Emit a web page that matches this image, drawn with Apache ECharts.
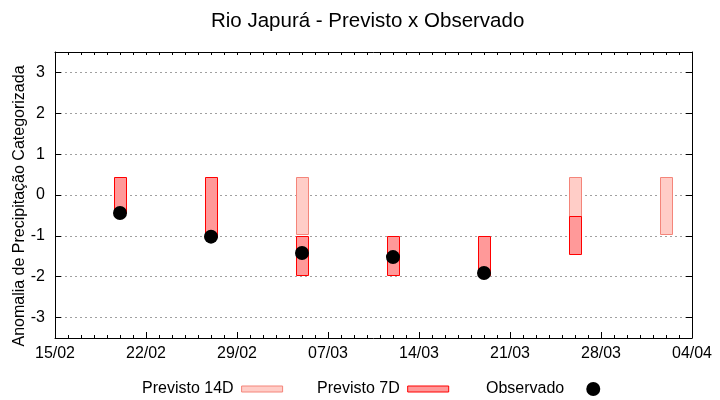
<!DOCTYPE html>
<html><head><meta charset="utf-8">
<script src="https://cdn.jsdelivr.net/npm/echarts@6/dist/echarts.min.js"></script>
<style>html,body{margin:0;padding:0;background:#fff}#c{width:720px;height:400px}</style>
</head><body><div id="c"></div>
<script>
const startDate = '2024-02-15';
const endDate = '2024-04-04';
const xTickLabels = ['15/02','22/02','29/02','07/03','14/03','21/03','28/03','04/04'];
const prev14Dates = ['2024-03-05','2024-03-26','2024-04-02'];
const prev14Top = [0.44, 0.44, 0.44];
const prev14Bottom = [-0.96, -0.96, -0.96];
const prev7Dates = ['2024-02-20','2024-02-27','2024-03-05','2024-03-12','2024-03-19','2024-03-26'];
const prev7Top = [0.44, 0.44, -1.01, -1.01, -1.01, -0.51];
const prev7Bottom = [-0.44, -1.02, -1.97, -1.97, -1.97, -1.45];
const obsDates = ['2024-02-20','2024-02-27','2024-03-05','2024-03-12','2024-03-19'];
const obsValues = [-0.44, -1.02, -1.42, -1.52, -1.91];

const DAY = 86400000;
function dayOf(s){ return (Date.parse(s+'T00:00:00Z') - Date.parse(startDate+'T00:00:00Z'))/DAY; }
const xMax = dayOf(endDate);
const HALF = 0.47;

function barRender(fill, stroke){
  return function(params, api){
    const x = api.value(0), top = api.value(1), bot = api.value(2);
    const p1 = api.coord([x - HALF, top]);
    const p2 = api.coord([x + HALF, bot]);
    return {type:'rect', shape:{x:Math.round(p1[0])+0.5, y:Math.round(p1[1])+0.5, width:Math.round(p2[0]-p1[0]), height:Math.round(p2[1]-p1[1])},
      style:{fill:fill, stroke:stroke, lineWidth:1}};
  };
}
const c14 = {fill:'#ffcdc7', stroke:'#f4857a'};
const c7 = {fill:'#ff9999', stroke:'#ff0000'};

const d14 = prev14Dates.map((d,i)=>[dayOf(d), prev14Top[i], prev14Bottom[i]]);
const d7 = prev7Dates.map((d,i)=>[dayOf(d), prev7Top[i], prev7Bottom[i]]);
const dObs = obsDates.map((d,i)=>[dayOf(d), obsValues[i]]);

const font = 'Liberation Sans, Arial, sans-serif';
const black = '#000';
const xBase = {
  type:'value', min:0, max:xMax, interval:7,
  axisLine:{show:true, onZero:false, lineStyle:{color:black, width:1}},
  axisTick:{show:true, inside:true, length:6, lineStyle:{color:black}},
  minorTick:{show:true, splitNumber:7, length:3, lineStyle:{color:black}},
  splitLine:{show:false}, minorSplitLine:{show:false}
};
const chart = echarts.init(document.getElementById('c'));
chart.setOption({
  animation:false,
  backgroundColor:'#fff',
  textStyle:{fontFamily:font},
  title:{text:'Rio Japurá - Previsto x Observado', left:211, top:11, padding:0,
    textStyle:{fontFamily:font, fontSize:20.5, fontWeight:'normal', color:black}},
  grid:{left:55, right:28, top:52, bottom:62, containLabel:false, outerBoundsMode:'none'},
  legend:[
    {left:137, top:376, align:'right', itemWidth:41, itemHeight:6, itemGap:0,
     textStyle:{fontFamily:font, fontSize:16, color:black, padding:[0,3,0,0]},
     data:[{name:'Previsto 14D', icon:'rect', itemStyle:{color:c14.fill, borderColor:c14.stroke, borderWidth:1}}]},
    {left:312, top:376, align:'right', itemWidth:41, itemHeight:6, itemGap:0,
     textStyle:{fontFamily:font, fontSize:16, color:black, padding:[0,3,0,0]},
     data:[{name:'Previsto 7D', icon:'rect', itemStyle:{color:c7.fill, borderColor:c7.stroke, borderWidth:1}}]},
    {left:481, top:376, align:'right', itemWidth:14, itemHeight:14, itemGap:0,
     textStyle:{fontFamily:font, fontSize:16, color:black, padding:[0,17,0,0]},
     data:[{name:'Observado', icon:'circle', itemStyle:{color:black, opacity:1}}]}
  ],
  xAxis:[
    Object.assign({}, xBase, {position:'bottom',
      axisLabel:{show:true, fontSize:16, color:black, fontFamily:font, margin:8,
        formatter:function(v){ const k = Math.round(v/7); return xTickLabels[k] || ''; }}}),
    Object.assign({}, xBase, {position:'top', axisLabel:{show:false},
      axisTick:{show:true, inside:true, length:3, lineStyle:{color:black}}})
  ],
  yAxis:[
    {type:'value', min:-3.5, max:3.5, splitNumber:7, position:'left',
     name:'Anomalia de Precipitação Categorizada', nameLocation:'middle', nameGap:27, nameMoveOverlap:false,
     nameTextStyle:{fontFamily:font, fontSize:16, color:black, padding:[0,22,0,0]},
     axisLine:{show:true, onZero:false, lineStyle:{color:black}},
     axisTick:{show:true, inside:true, length:6, lineStyle:{color:black}},
     axisLabel:{fontSize:16, color:black, fontFamily:font, margin:10,
       formatter:function(v){ return Number.isInteger(v) ? String(v) : ''; }},
     splitLine:{show:true, lineStyle:{color:'#a0a0a0', type:[2,3], width:1}}},
    {type:'value', min:-3.5, max:3.5, splitNumber:7, position:'right',
     axisLine:{show:true, onZero:false, lineStyle:{color:black}},
     axisTick:{show:true, inside:true, length:6, lineStyle:{color:black}},
     axisLabel:{show:false}, splitLine:{show:false}}
  ],
  series:[
    {name:'Previsto 14D', type:'custom', renderItem:barRender(c14.fill, c14.stroke), data:d14,
     encode:{x:0, y:[1,2]}, itemStyle:{color:c14.fill, borderColor:c14.stroke}, z:2},
    {name:'Previsto 7D', type:'custom', renderItem:barRender(c7.fill, c7.stroke), data:d7,
     encode:{x:0, y:[1,2]}, itemStyle:{color:c7.fill, borderColor:c7.stroke}, z:3},
    {name:'Observado', type:'scatter', data:dObs, symbol:'circle', symbolSize:14,
     itemStyle:{color:black, opacity:1}, z:4}
  ]
});
</script></body></html>
